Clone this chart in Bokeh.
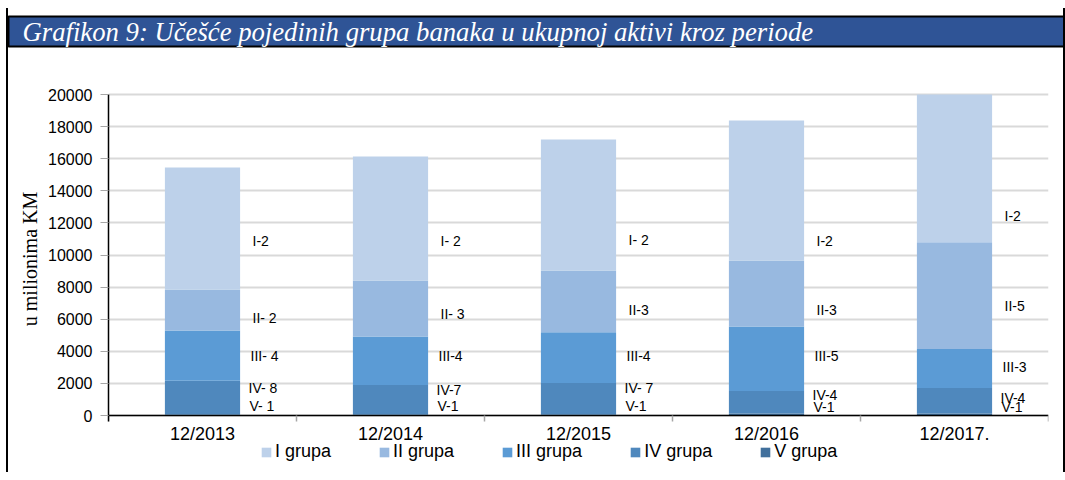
from bokeh.plotting import figure
from bokeh.models import (Range1d, FixedTicker, Legend, LegendItem, ColumnDataSource)
from bokeh.core.properties import value
from bokeh.embed import file_html
from bokeh.resources import INLINE

title = "Grafikon 9: Učešće pojedinih grupa banaka u ukupnoj aktivi kroz periode"
cats = ["12/2013", "12/2014", "12/2015", "12/2016", "12/2017."]
groups = ["I grupa", "II grupa", "III grupa", "IV grupa", "V grupa"]

grp_I = [7600, 7730, 8170, 8720, 9200]
grp_II = [2550, 3490, 3840, 4110, 6650]
grp_III = [3140, 3020, 3170, 4030, 2440]
grp_IV = [2120, 1860, 1970, 1390, 1590]
grp_V = [40, 40, 50, 130, 120]

# bank-count labels next to each bar and their heights
txt_I = ["I-2", "I- 2", "I- 2", "I-2", "I-2"]
txt_II = ["II- 2", "II- 3", "II-3", "II-3", "II-5"]
txt_III = ["III- 4", "III-4", "III-4", "III-5", "III-3"]
txt_IV = ["IV- 8", "IV-7", "IV- 7", "IV-4", "IV-4"]
txt_V = ["V- 1", "V-1", "V-1", "V-1", "V-1"]
lab_I = [10850, 10850, 10950, 10850, 12400]
lab_II = [6100, 6300, 6550, 6600, 6800]
lab_III = [3700, 3700, 3700, 3700, 3050]
lab_IV = [1700, 1600, 1700, 1300, 1100]
lab_V = [600, 600, 600, 500, 550]

y_ticks = list(range(0, 20001, 2000))
y_max = 20000
colors = ["#BDD1EA", "#98B9E0", "#5B9BD5", "#4F88BD", "#41709C"]

FONT = "Liberation Sans"

# layout geometry (pixels)
W, H = 1055, 464
B_LEFT, B_RIGHT, B_TOP, B_BOTTOM = 100, 15, 41, 4
PLOT_PX = 321            # pixel height of the 0..20000 value span
TOP_PX = 45              # empty room above the 20000 gridline
frame_px = H - B_TOP - B_BOTTOM
BOTTOM_PX = frame_px - PLOT_PX - TOP_PX       # room below zero for axis labels + legend
y_lo = -y_max * BOTTOM_PX / PLOT_PX
y_hi = y_max + y_max * TOP_PX / PLOT_PX

n = len(cats)
xc = [i + 0.5 for i in range(n)]          # category centres on a linear scale
bounds = list(range(n + 1))               # category boundaries

src = ColumnDataSource(dict(x=xc, V=grp_V, IV=grp_IV, III=grp_III, II=grp_II, I=grp_I))

p = figure(x_range=Range1d(0, n), y_range=Range1d(y_lo, y_hi),
           width=W, height=H, output_backend="svg", toolbar_location=None,
           min_border_left=B_LEFT, min_border_right=B_RIGHT,
           min_border_top=B_TOP, min_border_bottom=B_BOTTOM)
p.outline_line_color = None
p.background_fill_color = "white"
p.border_fill_color = "white"
p.styles = {"margin": "8px 0 0 8px", "box-shadow": "-2px 0 0 0 black, 2px 0 0 0 black"}

# banner title
p.title.text = title
p.title.align = "left"
p.title.vertical_align = "bottom"
p.title.offset = -100
p.title.standoff = 6
p.title.text_font = "Liberation Serif"
p.title.text_font_style = "italic"
p.title.text_font_size = "26.7px"
p.title.text_color = "white"
p.title.background_fill_color = "#2F5496"
p.title.border_line_color = "black"
p.title.border_line_width = 2
p.title.padding = dict(left=14, right=270, top=0, bottom=0)

stack_keys = ["V", "IV", "III", "II", "I"]
stack_cols = colors[::-1]
rs = p.vbar_stack(stack_keys, x="x", width=0.4, color=stack_cols, line_color=None, source=src)
r_by_grp = dict(zip(stack_keys, rs))

# labels
for txt, ys, dx in [(txt_I, lab_I, 50), (txt_II, lab_II, 50), (txt_III, lab_III, 48),
                    (txt_IV, lab_IV, 46), (txt_V, lab_V, 47)]:
    p.text(x=xc, y=ys, text=txt, x_offset=dx, text_baseline="middle", text_align="left",
           text_font=value(FONT), text_font_size="14px", text_color="black")

# y axis
p.yaxis.ticker = FixedTicker(ticks=y_ticks)
p.yaxis.bounds = (-350, y_max)
p.yaxis.major_label_text_font = FONT
p.yaxis.major_label_text_font_size = "16px"
p.yaxis.major_label_text_color = "black"
p.yaxis.major_tick_out = 8
p.yaxis.major_tick_in = 0
p.yaxis.major_tick_line_color = "#A6A6A6"
p.yaxis.minor_tick_line_color = None
p.yaxis.axis_line_color = "black"
p.yaxis.axis_line_width = 1.5
p.yaxis.major_label_standoff = 8
p.yaxis.axis_label = "u milionima KM"
p.yaxis.axis_label_text_font = "Liberation Serif"
p.yaxis.axis_label_text_font_style = "normal"
p.yaxis.axis_label_text_font_size = "20px"
p.yaxis.axis_label_text_color = "black"
p.yaxis.axis_label_standoff = 4

p.ygrid.ticker = FixedTicker(ticks=y_ticks)
p.ygrid.grid_line_color = "#D9D9D9"
p.ygrid.grid_line_width = 2
p.xgrid.visible = False

# x axis at zero: labels at centres, small ticks at the category boundaries
p.xaxis.fixed_location = 0
p.xaxis.ticker = FixedTicker(ticks=xc, minor_ticks=bounds)
p.xaxis.major_label_overrides = {x: c for x, c in zip(xc, cats)}
p.xaxis.major_tick_line_color = None
p.xaxis.major_tick_out = 0
p.xaxis.major_tick_in = 0
p.xaxis.minor_tick_out = 6
p.xaxis.minor_tick_in = 0
p.xaxis.minor_tick_line_color = "#A6A6A6"
p.xaxis.minor_tick_line_width = 1.5
p.xaxis.axis_line_color = "black"
p.xaxis.axis_line_width = 1.5
p.xaxis.major_label_text_font = FONT
p.xaxis.major_label_text_font_size = "18px"
p.xaxis.major_label_text_color = "black"
p.xaxis.major_label_standoff = 2

items = [LegendItem(label=g, renderers=[r_by_grp[k]]) for g, k in zip(groups, ["I", "II", "III", "IV", "V"])]
legend = Legend(items=items, orientation="horizontal", location=(152, 6), spacing=47,
                glyph_width=12, glyph_height=12, label_standoff=3, label_text_font=FONT,
                label_text_font_size="18px", label_text_color="black", border_line_color=None,
                background_fill_alpha=0, padding=2, margin=0)
p.add_layout(legend, "center")

open("out.html", "w").write(file_html(p, INLINE))
